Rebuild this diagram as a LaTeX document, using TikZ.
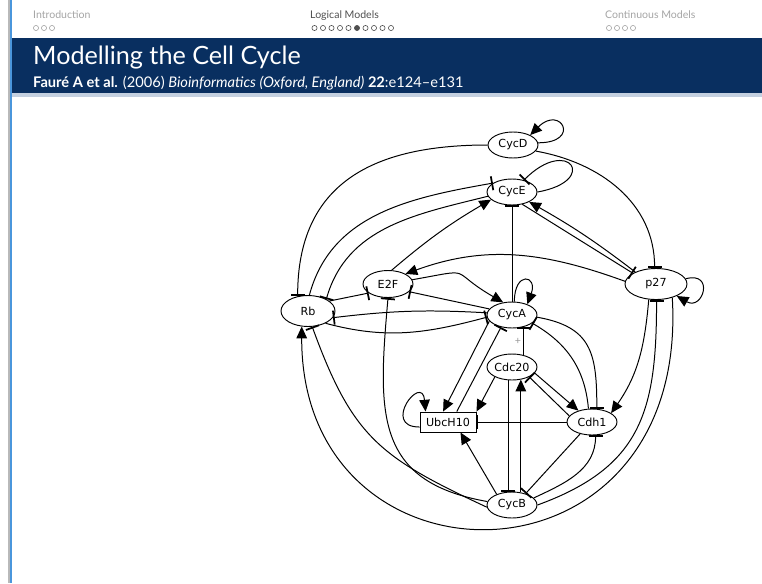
\documentclass[tikz,border=0pt]{standalone}
\usepackage{fontspec}
\setmainfont{Lato}
\newfontfamily\genefont{DejaVu Sans}
\usetikzlibrary{arrows.meta, shapes.geometric}

\definecolor{framebar}{RGB}{9,47,96}
\definecolor{framerule}{RGB}{196,208,224}
\definecolor{sidegray}{RGB}{185,185,185}
\definecolor{sideblue}{RGB}{74,150,220}
\definecolor{navlight}{RGB}{165,165,165}
\definecolor{navdark}{RGB}{80,80,80}

\begin{document}
\begin{tikzpicture}[x=0.03cm, y=0.03cm,
    gene/.style={ellipse, draw, line width=0.8pt, inner sep=0pt, minimum width=1.5cm, minimum height=0.78cm, font=\genefont\fontsize{9.5}{11}\selectfont},
    genebox/.style={rectangle, draw, line width=0.8pt, inner sep=0pt, minimum width=1.68cm, minimum height=0.6cm, font=\genefont\fontsize{9.5}{11}\selectfont},
    act/.style={draw, line width=0.85pt, -{Triangle[length=10pt, width=9pt]}},
    inh/.style={draw, line width=0.85pt, -{Bar[width=12pt, line width=1.5pt]}},
    plus/.style={left=1pt, inner sep=1pt, text=black!40, font=\fontsize{9}{10}\selectfont},
    navtext/.style={anchor=base west, inner sep=0pt, font=\fontsize{9}{10}\selectfont}]
    \useasboundingbox (0,0) rectangle (762,-583);
    \fill [white] (0,0) rectangle (762,-583);
    \fill [framebar] (12,-38) rectangle (762,-93);
    \fill [framerule] (12,-93) rectangle (762,-97);
    \draw [sidegray, line width=1pt] (9,0) -- (9,-583);
    \draw [sideblue, line width=1.5pt] (11,0) -- (11,-583);

    \node [navtext, navlight] (navintro) at (33,-18) {Introduction};
    \node [navtext, navdark] (navlogic) at (310,-18) {Logical Models};
    \node [navtext, navlight] (navcont) at (605,-18) {Continuous Models};
    \foreach \i in {0,1,2}
        \draw [navlight, line width=0.5pt] (36+8*\i,-28) circle (2.2pt);
    \foreach \i in {0,...,9}
        \draw [navdark, line width=0.5pt] (314.5+8.5*\i,-28) circle (2.2pt);
    \fill [navdark] (314.5+8.5*5,-28) circle (2.2pt);
    \foreach \i in {0,...,3}
        \draw [navlight, line width=0.5pt] (609+8*\i,-28) circle (2.2pt);

    \node [anchor=base west, inner sep=0pt, white, font=\fontsize{21.5}{25}\selectfont] (title) at (33,-64) {Modelling the Cell Cycle};
    \node [anchor=base west, inner sep=0pt, white, font=\fontsize{12.5}{14}\selectfont] (cite) at (33,-87) {\textbf{Fauré A et al.} (2006) \textit{Bioinformatics (Oxford, England)} \textbf{22}:e124--e131};

    \node [gene] (CycD) at (513,-145) {CycD};
    \node [gene] (CycE) at (512,-192) {CycE};
    \node [gene, minimum height=0.81cm] (E2F) at (388,-284) {E2F};
    \node [gene, minimum width=1.86cm, minimum height=0.93cm] (p27) at (656,-284) {p27};
    \node [gene, minimum width=1.62cm, minimum height=0.93cm] (Rb) at (308,-311) {Rb};
    \node [gene] (CycA) at (512,-315) {CycA};
    \node [gene] (Cdc20) at (512,-367) {Cdc20};
    \node [genebox] (UbcH10) at (448,-422) {UbcH10};
    \node [gene] (Cdh1) at (592,-422) {Cdh1};
    \node [gene] (CycB) at (512,-505) {CycB};

    \path [act] (CycD.5) to [out=0, in=45, looseness=10] (CycD.30);
    \path [inh] (CycD.west) to [out=180, in=90, looseness=1.2] (Rb.125);
    \path [inh] (CycD.-15) to [out=-10, in=90] (p27.95);
    \path [inh] (CycE.0) to [out=10, in=45, looseness=9] (CycE.45);
    \path [inh] (Rb.85) to [out=75, in=190] (CycE.155);
    \path [inh] (CycE.190) to [out=194, in=74] (Rb.33);
    \path [act] (E2F.75) to [bend left=5] (CycE.200);
    \path [inh] (CycA.north) -- (CycE.south);
    \path [act] (p27.150) to [bend right=4] (CycE.-30);
    \path [inh] (CycE.-50) -- (p27.155);
    \path [act] (p27.175) to [out=160, in=20] (E2F.30);
    \path [act] (E2F.10) to [out=10, in=150, looseness=1.8] (CycA.125);
    \path [inh] (CycA.165) -- (E2F.-20);
    \path [inh] (Rb.25) -- (E2F.205);
    \path [inh] (CycB.172) to [out=170, in=-95, looseness=1.3] (E2F.-90);
    \path [inh] (CycA.175) to [bend right=5] (Rb.-15);
    \path [inh] (Rb.-35) to [out=-15, in=195] (CycA.185);
    \path [act] (p27.-40) .. controls (690,-600) and (301,-600) .. (Rb.-112);
    \path [inh] (CycB.185) to [out=155, in=-70, looseness=1.2] (Rb.-75);
    \path [act] (CycB.145) -- (UbcH10.-40);
    \path [act] (CycB.55) -- (Cdc20.-55);
    \path [inh] (Cdc20.-105) -- (CycB.105);
    \path [inh] (Cdc20.45) -- node [plus] (plus) {+} (CycA.-45);
    \path [act] (Cdc20.210) -- (UbcH10.north east);
    \path [act] (CycA.195) -- (UbcH10.115);
    \path [inh] (UbcH10.50) -- (CycA.228);
    \path [act] (UbcH10.190) to [out=180, in=95, looseness=6] (UbcH10.155);
    \path [inh] (Cdh1.west) -- (UbcH10.east);
    \path [act] (Cdc20.-15) -- (Cdh1.140);
    \path [inh] (Cdh1.165) -- (Cdc20.-30);
    \path [inh] (CycA.-5) to [out=-10, in=90, looseness=1.3] (Cdh1.70);
    \path [inh] (Cdh1.105) to [out=95, in=-30] (CycA.-22);
    \path [act] (p27.-115) to [out=-95, in=55] (Cdh1.25);
    \path [inh] (CycB.0) to [out=20, in=-90, looseness=1.2] (p27.-88);
    \path [inh] (CycB.18) to [out=25, in=-90] (Cdh1.-75);
    \path [inh] (Cdh1.225) -- (CycB.40);
    \path [act] (CycA.80) to [out=90, in=70, looseness=6] (CycA.35);
    \path [act] (p27.10) to [out=15, in=-30, looseness=4] (p27.-30);
\end{tikzpicture}
\end{document}
